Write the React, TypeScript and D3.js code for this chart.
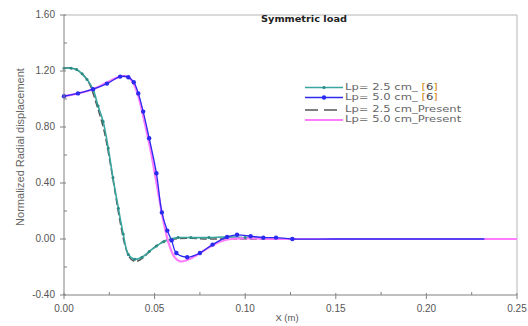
import React from 'react'
import * as d3 from 'd3'

// Lp = 2.5 cm, reference [6]
const tealX = [0, 0.004, 0.007, 0.010, 0.0127, 0.016, 0.0188, 0.0216, 0.0244, 0.027, 0.030, 0.0327, 0.0355, 0.039, 0.043, 0.047, 0.051, 0.055, 0.059, 0.063, 0.070, 0.080, 0.090, 0.100, 0.110, 0.130, 0.160, 0.200, 0.242]
const tealY = [1.22, 1.22, 1.21, 1.18, 1.14, 1.07, 0.95, 0.84, 0.65, 0.44, 0.22, 0.035, -0.11, -0.145, -0.13, -0.09, -0.05, -0.02, 0.0, 0.01, 0.01, 0.01, 0.015, 0.01, 0.005, 0, 0, 0, 0]

// Lp = 5.0 cm, reference [6]
const blueX = [0, 0.0077, 0.016, 0.0237, 0.031, 0.0355, 0.0385, 0.041, 0.0437, 0.047, 0.051, 0.054, 0.057, 0.0594, 0.062, 0.068, 0.075, 0.082, 0.090, 0.0955, 0.103, 0.110, 0.117, 0.126, 0.150, 0.200, 0.232]
const blueY = [1.02, 1.04, 1.07, 1.11, 1.16, 1.155, 1.12, 1.04, 0.91, 0.72, 0.47, 0.19, 0.06, -0.01, -0.10, -0.13, -0.10, -0.04, 0.015, 0.03, 0.02, 0.01, 0.01, 0.0, 0, 0, 0]

// Lp = 2.5 cm, present
const grayX = [0, 0.005, 0.010, 0.014, 0.018, 0.022, 0.025, 0.028, 0.031, 0.034, 0.037, 0.040, 0.044, 0.048, 0.052, 0.056, 0.060, 0.070, 0.080, 0.100, 0.150, 0.200, 0.242]
const grayY = [1.22, 1.22, 1.18, 1.11, 0.96, 0.78, 0.58, 0.35, 0.12, -0.06, -0.145, -0.16, -0.13, -0.08, -0.04, -0.01, 0.0, 0.005, 0.0, 0.0, 0, 0, 0]

// Lp = 5.0 cm, present
const pinkX = [0, 0.008, 0.016, 0.024, 0.031, 0.035, 0.038, 0.041, 0.044, 0.048, 0.052, 0.055, 0.058, 0.061, 0.064, 0.068, 0.074, 0.080, 0.086, 0.092, 0.100, 0.120, 0.150, 0.200, 0.250]
const pinkY = [1.02, 1.04, 1.07, 1.12, 1.16, 1.16, 1.12, 1.02, 0.86, 0.62, 0.33, 0.12, -0.04, -0.13, -0.16, -0.15, -0.11, -0.06, -0.02, 0.0, 0.005, 0.0, 0, 0, 0]

const xTicks = [0, 0.05, 0.1, 0.15, 0.2, 0.25]
const xMinor = [0.025, 0.075, 0.125, 0.175, 0.225]
const yTicks = [-0.4, 0, 0.4, 0.8, 1.2, 1.6]
const yMinor = [-0.2, 0.2, 0.6, 1.0, 1.4]

const legendLabels = ['Lp= 2.5 cm_ ', 'Lp= 5.0 cm_ ', 'Lp= 2.5 cm_Present', 'Lp= 5.0 cm_Present']
const legendRefs = ['6', '6', '', '']

const TEAL = '#3aa6a0'
const BLUE = '#2a2af0'
const GRAY = '#555555'
const PINK = '#ff7cff'

const zip = (xs: number[], ys: number[]) => xs.map((x, i) => [x, ys[i]] as [number, number])

export default function App() {
  const width = 528
  const height = 326
  const x = d3.scaleLinear().domain([0, 0.25]).range([64, 517])
  const y = d3.scaleLinear().domain([-0.4, 1.6]).range([295, 15])
  const line = d3.line<[number, number]>()
    .x(d => x(d[0]))
    .y(d => y(d[1]))
    .curve(d3.curveCatmullRom.alpha(0.5))

  const teal = zip(tealX, tealY)
  const blue = zip(blueX, blueY)
  const gray = zip(grayX, grayY)
  const pink = zip(pinkX, pinkY)

  const tickFont = { fontFamily: 'Liberation Sans, Arial, sans-serif', fontSize: 10, fill: '#555' }
  const legRows = [87.5, 97.5, 110, 120]

  return (
    <svg width={width} height={height} style={{ position: 'absolute', left: 0, top: 0, background: '#fff' }}>
      {/* frame */}
      <line x1={x(0)} x2={x(0.25)} y1={y(1.6)} y2={y(1.6)} stroke="#b5b5b5" />
      <line x1={x(0.25)} x2={x(0.25)} y1={y(1.6)} y2={y(-0.4)} stroke="#b5b5b5" />

      {/* curves */}
      <path d={line(gray) || ''} fill="none" stroke={GRAY} strokeWidth={1.5} strokeDasharray="7,3" />
      <path d={line(teal) || ''} fill="none" stroke={TEAL} strokeWidth={1.6} />
      <path d={line(pink) || ''} fill="none" stroke={PINK} strokeWidth={2.2} />
      <path d={line(blue) || ''} fill="none" stroke={BLUE} strokeWidth={1.3} />
      {teal.filter(d => d[0] <= 0.11).map((d, i) => (
        <circle key={'t' + i} cx={x(d[0])} cy={y(d[1])} r={1.5} fill="#2b8a84" />
      ))}
      {blue.filter(d => d[0] <= 0.13).map((d, i) => (
        <circle key={'b' + i} cx={x(d[0])} cy={y(d[1])} r={2.2} fill={BLUE} />
      ))}

      {/* axes */}
      <line x1={x(0)} x2={x(0)} y1={y(1.6)} y2={y(-0.4)} stroke="#808080" />
      <line x1={x(0)} x2={x(0.25)} y1={y(-0.4)} y2={y(-0.4)} stroke="#808080" />
      {yTicks.map(t => (
        <g key={'yt' + t}>
          <line x1={x(0) - 4} x2={x(0) + 2} y1={y(t)} y2={y(t)} stroke="#808080" />
          <text x={55} y={y(t)} dominantBaseline="middle" textAnchor="end" {...tickFont}>{t.toFixed(2)}</text>
        </g>
      ))}
      {yMinor.map(t => (
        <line key={'ym' + t} x1={x(0)} x2={x(0) + 3} y1={y(t)} y2={y(t)} stroke="#808080" />
      ))}
      {xTicks.map(t => (
        <g key={'xt' + t}>
          <line x1={x(t)} x2={x(t)} y1={y(-0.4) - 2} y2={y(-0.4) + 4} stroke="#808080" />
          <text x={x(t)} y={309} dominantBaseline="middle" textAnchor="middle" {...tickFont}>{t.toFixed(2)}</text>
        </g>
      ))}
      {xMinor.map(t => (
        <line key={'xm' + t} x1={x(t)} x2={x(t)} y1={y(-0.4) - 3} y2={y(-0.4)} stroke="#808080" />
      ))}
      <text x={287} y={318} textAnchor="middle" dominantBaseline="middle" {...tickFont} fontSize={9.5}>X (m)</text>
      <text transform={`translate(21, ${147}) rotate(-90)`} textAnchor="middle" dominantBaseline="middle"
        fontFamily="Liberation Sans, Arial, sans-serif" fontSize={11} fill="#666">
        Normalized Radial displacement
      </text>

      {/* title */}
      <text transform="translate(304, 20) scale(1.15, 1)" textAnchor="middle" dominantBaseline="middle"
        fontFamily="DejaVu Sans, sans-serif" fontWeight="bold" fontSize={8.5} fill="#222">
        Symmetric load
      </text>

      {/* legend */}
      <g>
        <line x1={305} x2={343} y1={legRows[0]} y2={legRows[0]} stroke={TEAL} strokeWidth={1.6} />
        <circle cx={324} cy={legRows[0]} r={1.6} fill="#2b8a84" />
        <line x1={305} x2={343} y1={legRows[1]} y2={legRows[1]} stroke={BLUE} strokeWidth={1.3} />
        <circle cx={324} cy={legRows[1]} r={2.2} fill={BLUE} />
        <line x1={305} x2={343} y1={legRows[2]} y2={legRows[2]} stroke={GRAY} strokeWidth={1.5} strokeDasharray="13,6" />
        <line x1={305} x2={343} y1={legRows[3]} y2={legRows[3]} stroke={PINK} strokeWidth={2.2} />
        {legendLabels.map((l, i) => (
          <text key={l} transform={`translate(345, ${legRows[i]}) scale(1.45, 1)`} dominantBaseline="middle"
            fontFamily="DejaVu Sans, sans-serif" fontSize={8} fill="#666">
            {l}
            {legendRefs[i] && (
              <>
                <tspan fill="#d08a20">[</tspan>
                <tspan fill="#444">{legendRefs[i]}</tspan>
                <tspan fill="#d08a20">]</tspan>
              </>
            )}
          </text>
        ))}
      </g>
    </svg>
  )
}
